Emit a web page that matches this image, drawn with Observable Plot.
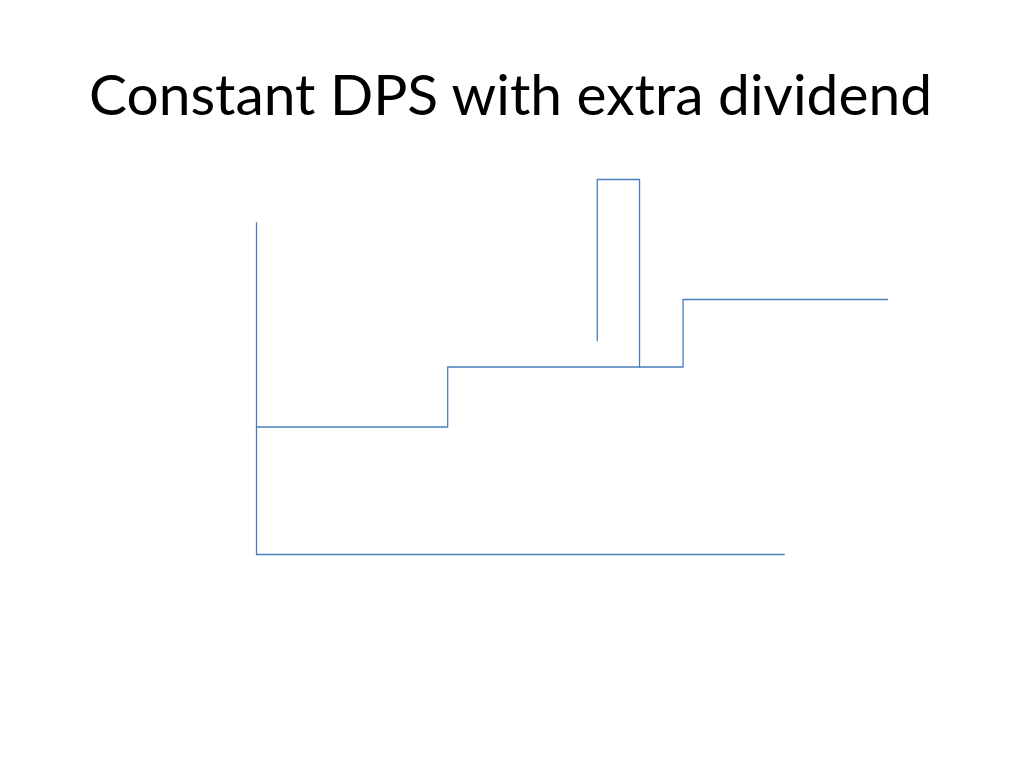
<!DOCTYPE html>
<html>
<head>
<meta charset="utf-8">
<script src="https://cdn.jsdelivr.net/npm/d3@7"></script>
<script src="https://cdn.jsdelivr.net/npm/@observablehq/plot@0.6"></script>
<style>
  html, body { margin: 0; padding: 0; background: #fff; }
  #wrap { position: relative; width: 1024px; height: 768px; overflow: hidden; }
  #titlebox { position: relative; width: 1024px; height: 160px; }
  #title { position: absolute; left: 89px; top: 66px; font-family: Lato, "Open Sans", sans-serif;
           font-size: 56px; line-height: 56px; color: #000; white-space: nowrap; transform-origin: 0 0; }
  #chart svg { display: block; }
</style>
</head>
<body>
<div id="wrap">
  <div id="titlebox"><span id="title">Constant DPS with extra dividend</span></div>
  <div id="chart"></div>
</div>
<script>
// Time axis (arbitrary units) and dividend-per-share levels (arbitrary units)
const stepTimes  = [0, 30.3, 67.6, 100];
const stepDPS    = [34, 50, 68, 68];
const extraTimes = [54, 54, 60.7, 60.7];
const extraDPS   = [57, 100, 100, 50];
const axisXEnd   = 83.8;
const axisYTop   = 88.5;

const stepData  = stepTimes.map((t, i) => ({t, d: stepDPS[i]}));
const extraData = extraTimes.map((t, i) => ({t, d: extraDPS[i]}));
const blue = "#4a7ebb";

const chart = Plot.plot({
  width: 1024,
  height: 608,
  marginLeft: 256,
  marginRight: 137,
  marginTop: 19,
  marginBottom: 214,
  x: {domain: [0, 100], axis: null},
  y: {domain: [0, 100], axis: null},
  marks: [
    Plot.ruleX([0], {y1: 0, y2: axisYTop, stroke: blue, strokeWidth: 1.3}),
    Plot.ruleY([0], {x1: 0, x2: axisXEnd, stroke: blue, strokeWidth: 1.3}),
    Plot.line(stepData, {x: "t", y: "d", curve: "step-after", stroke: blue, strokeWidth: 1.3}),
    Plot.line(extraData, {x: "t", y: "d", stroke: blue, strokeWidth: 1.3})
  ]
});
document.getElementById("chart").appendChild(chart);

// fit title width to the reference
const title = document.getElementById("title");
const w = title.getBoundingClientRect().width;
title.style.transform = `scaleX(${843 / w})`;
</script>
</body>
</html>
